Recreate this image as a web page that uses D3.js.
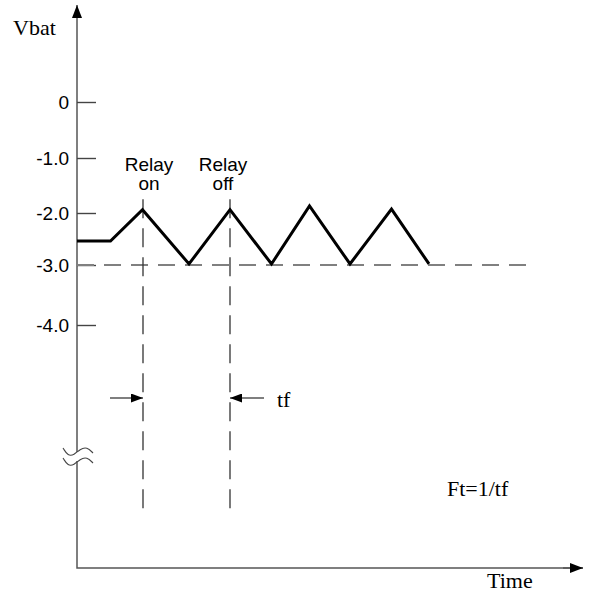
<!DOCTYPE html>
<html>
<head>
<meta charset="utf-8">
<script src="https://cdn.jsdelivr.net/npm/d3@7"></script>
<style>
  html, body { margin: 0; padding: 0; background: #fff; }
  svg { display: block; }
</style>
</head>
<body>
<svg id="chart" width="590" height="592"></svg>
<script>
// ---- data ----
const yTicks = [0, -1, -2, -3, -4];
const signalTime = [0, 6.7, 13.1, 22.4, 30.6, 38.9, 46.5, 54.6, 62.9, 70.4];
const signalVbat = [-2.54, -2.54, -1.94, -2.98, -1.94, -2.98, -1.87, -2.98, -1.93, -2.98];
const refLevel = -3;
const refEndTime = 91.6;
const relayTimes = [13.2, 30.6];
const relayLabels = [["Relay", "on"], ["Relay", "off"]];
const relayTopVbat = -1.75;
const yLabel = "Vbat";
const xLabel = "Time";
const periodLabel = "tf";
const formulaLabel = "Ft=1/tf";

// ---- layout ----
const svg = d3.select("#chart");
const axisX = 77, axisBottom = 568, axisTop = 5, axisRight = 583;
const x = d3.scaleLinear().domain([0, 100]).range([axisX, 577]);
const y = d3.scaleLinear().domain(yTicks).range([102, 158, 213, 265, 325]);

const sans = "'Liberation Sans', Arial, sans-serif";
const serif = "'Liberation Serif', 'Times New Roman', serif";

// arrow markers
const defs = svg.append("defs");
function marker(id, w, h) {
  defs.append("marker").attr("id", id)
    .attr("viewBox", `0 0 ${w} ${h}`).attr("refX", w).attr("refY", h / 2)
    .attr("markerWidth", w).attr("markerHeight", h).attr("markerUnits", "userSpaceOnUse")
    .attr("orient", "auto")
    .append("path").attr("d", `M0,0L${w},${h / 2}L0,${h}Z`).attr("fill", "#000");
}
marker("axisArrow", 13, 10);
marker("smallArrow", 12, 9);

// y axis line (broken)
const breakTop = 452, breakBottom = 461;
svg.append("line").attr("x1", axisX).attr("x2", axisX).attr("y1", breakTop).attr("y2", axisTop)
  .attr("stroke", "#555").attr("stroke-width", 1.5).attr("marker-end", "url(#axisArrow)");
svg.append("path").attr("d", `M${axisX},${breakBottom}L${axisX},${axisBottom}L${axisRight},${axisBottom}`)
  .attr("fill", "none").attr("stroke", "#555").attr("stroke-width", 1.5);
svg.append("line").attr("x1", axisRight - 20).attr("x2", axisRight).attr("y1", axisBottom).attr("y2", axisBottom)
  .attr("stroke", "#555").attr("stroke-width", 1.5).attr("marker-end", "url(#axisArrow)");

// break symbol
const wave = d3.line().curve(d3.curveBasis);
[0, 10].forEach(dy => {
  svg.append("path")
    .attr("d", wave([[63, 448 + dy], [68, 456 + dy], [74, 455 + dy], [80, 449 + dy], [87, 447 + dy], [93, 453 + dy]]))
    .attr("fill", "none").attr("stroke", "#444").attr("stroke-width", 1.1);
});

// y axis ticks
const yAxis = d3.axisLeft(y).tickValues(yTicks).tickSizeInner(-19).tickSizeOuter(0).tickPadding(8)
  .tickFormat(d => d === 0 ? "0" : d.toFixed(1));
const gy = svg.append("g").attr("transform", `translate(${axisX},0)`).call(yAxis);
gy.select(".domain").remove();
gy.selectAll(".tick line").attr("stroke", "#444").attr("stroke-width", 1.4);
gy.selectAll(".tick text").attr("font-family", sans).attr("font-size", 19).attr("fill", "#000");

// reference dashed line at -3
svg.append("line")
  .attr("x1", x(0)).attr("x2", x(refEndTime)).attr("y1", y(refLevel)).attr("y2", y(refLevel))
  .attr("stroke", "#808080").attr("stroke-width", 1.8).attr("stroke-dasharray", "17,10");

// relay vertical dashed lines
const relayBottom = 512;
relayTimes.forEach(t => {
  svg.append("line").attr("x1", x(t)).attr("x2", x(t)).attr("y1", y(relayTopVbat)).attr("y2", relayBottom)
    .attr("stroke", "#333").attr("stroke-width", 1.3).attr("stroke-dasharray", "19,10");
});

// signal
const line = d3.line().x(d => x(d[0])).y(d => y(d[1]));
svg.append("path").datum(signalTime.map((t, i) => [t, signalVbat[i]]))
  .attr("d", line).attr("fill", "none").attr("stroke", "#000").attr("stroke-width", 3)
  .attr("stroke-linejoin", "miter");

// relay labels
const labelOffsets = [6, -7];
relayTimes.forEach((t, i) => {
  const cx = x(t) + labelOffsets[i];
  svg.append("text").attr("x", cx).attr("y", 171)
    .attr("text-anchor", "middle").attr("font-family", sans).attr("font-size", 19).attr("fill", "#000")
    .text(relayLabels[i][0]);
  svg.append("text").attr("x", cx).attr("y", 190)
    .attr("text-anchor", "middle").attr("font-family", sans).attr("font-size", 19).attr("fill", "#000")
    .text(relayLabels[i][1]);
});

// tf arrows
const arrowY = 398;
svg.append("line").attr("x1", 110).attr("x2", x(relayTimes[0])).attr("y1", arrowY).attr("y2", arrowY)
  .attr("stroke", "#000").attr("stroke-width", 1.2).attr("marker-end", "url(#smallArrow)");
svg.append("line").attr("x1", 264).attr("x2", x(relayTimes[1])).attr("y1", arrowY).attr("y2", arrowY)
  .attr("stroke", "#000").attr("stroke-width", 1.2).attr("marker-end", "url(#smallArrow)");
svg.append("text").attr("x", 277).attr("y", 407).attr("font-family", serif).attr("font-size", 22)
  .attr("fill", "#000").text(periodLabel);

// text labels
svg.append("text").attr("x", 13).attr("y", 35).attr("font-family", serif).attr("font-size", 22)
  .attr("fill", "#000").text(yLabel);
svg.append("text").attr("x", 487).attr("y", 588).attr("font-family", serif).attr("font-size", 22)
  .attr("fill", "#000").text(xLabel);
svg.append("text").attr("x", 447).attr("y", 496).attr("font-family", serif).attr("font-size", 22)
  .attr("fill", "#000").text(formulaLabel);
</script>
</body>
</html>
